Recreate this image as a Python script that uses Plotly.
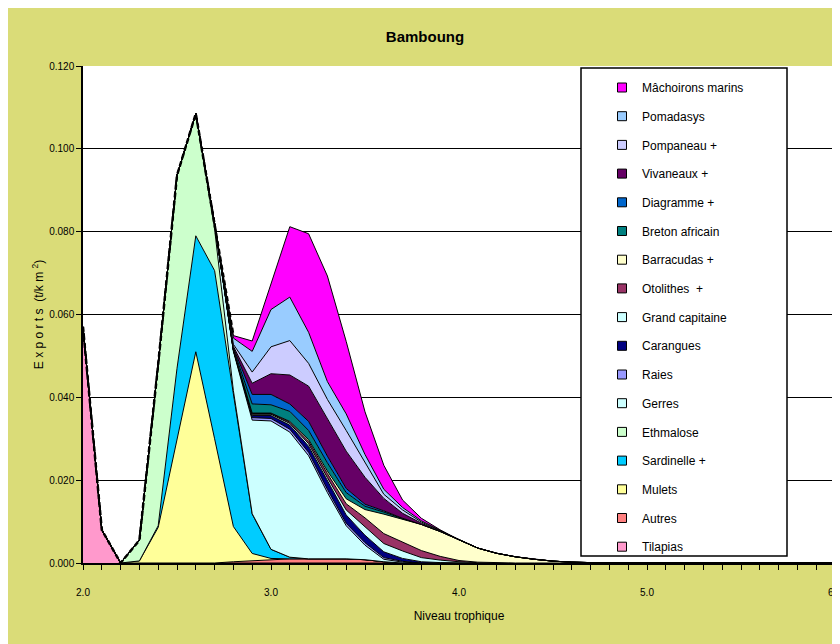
import plotly.graph_objects as go

# Trophic level categories (2.0 .. 6.0 step 0.1)
niveau = [2.0, 2.1, 2.2, 2.3, 2.4, 2.5, 2.6, 2.7, 2.8, 2.9,
          3.0, 3.1, 3.2, 3.3, 3.4, 3.5, 3.6, 3.7, 3.8, 3.9,
          4.0, 4.1, 4.2, 4.3, 4.4, 4.5, 4.6, 4.7, 4.8, 4.9,
          5.0, 5.1, 5.2, 5.3, 5.4, 5.5, 5.6, 5.7, 5.8, 5.9, 6.0]

x_tickvals = [2.0, 3.0, 4.0, 5.0, 6.0]
x_ticktext = ["2.0", "3.0", "4.0", "5.0", "6.0"]

# Exports (t/km2) per species, stacked bottom -> top
tilapias = [0.057, 0.008, 0, 0, 0, 0, 0, 0, 0, 0,
            0, 0, 0, 0, 0, 0, 0, 0, 0, 0,
            0, 0, 0, 0, 0, 0, 0, 0, 0, 0,
            0, 0, 0, 0, 0, 0, 0, 0, 0, 0, 0]
autres = [0, 0, 0, 0, 0, 0, 0, 0, 0.0003, 0.0005,
          0.0008, 0.0010, 0.0010, 0.0010, 0.0010, 0.0008, 0.0003, 0, 0, 0,
          0, 0, 0, 0, 0, 0, 0, 0, 0, 0,
          0, 0, 0, 0, 0, 0, 0, 0, 0, 0, 0]
mulets = [0, 0, 0, 0.0005, 0.0086, 0.0300, 0.0510, 0.0300, 0.0085, 0.0018,
          0.0003, 0, 0, 0, 0, 0, 0, 0, 0, 0,
          0, 0, 0, 0, 0, 0, 0, 0, 0, 0,
          0, 0, 0, 0, 0, 0, 0, 0, 0, 0, 0]
sardinelle = [0, 0, 0, 0, 0.0004, 0.0170, 0.0280, 0.0406, 0.0320, 0.0095,
              0.0022, 0.0004, 0, 0, 0, 0, 0, 0, 0, 0,
              0, 0, 0, 0, 0, 0, 0, 0, 0, 0,
              0, 0, 0, 0, 0, 0, 0, 0, 0, 0, 0]
ethmalose = [0, 0, 0, 0.0050, 0.0390, 0.0466, 0.0295, 0.0100, 0.0008, 0.0001,
             0, 0, 0, 0, 0, 0, 0, 0, 0, 0,
             0, 0, 0, 0, 0, 0, 0, 0, 0, 0,
             0, 0, 0, 0, 0, 0, 0, 0, 0, 0, 0]
gerres = [0, 0, 0, 0, 0, 0, 0, 0.0014, 0.0095, 0.0226,
          0.0310, 0.0302, 0.0249, 0.0160, 0.0080, 0.0035, 0.0006, 0.0002, 0, 0,
          0, 0, 0, 0, 0, 0, 0, 0, 0, 0,
          0, 0, 0, 0, 0, 0, 0, 0, 0, 0, 0]
raies = [0, 0, 0, 0, 0, 0, 0, 0, 0.0002, 0.0006,
         0.0006, 0.0007, 0.0008, 0.0008, 0.0006, 0.0006, 0.0004, 0.0002, 0, 0,
         0, 0, 0, 0, 0, 0, 0, 0, 0, 0,
         0, 0, 0, 0, 0, 0, 0, 0, 0, 0, 0]
carangues = [0, 0, 0, 0, 0, 0, 0, 0, 0.0001, 0.0005,
             0.0007, 0.0010, 0.0015, 0.0020, 0.0020, 0.0018, 0.0014, 0.0007, 0.0003, 0.0001,
             0, 0, 0, 0, 0, 0, 0, 0, 0, 0,
             0, 0, 0, 0, 0, 0, 0, 0, 0, 0, 0]
grand_capitaine = [0, 0, 0, 0, 0, 0, 0, 0, 0, 0.0003,
                   0.0003, 0.0004, 0.0006, 0.0008, 0.0012, 0.0020, 0.0020, 0.0018, 0.0010, 0.0006,
                   0.0003, 0.0001, 0.00005, 0, 0, 0, 0, 0, 0, 0,
                   0, 0, 0, 0, 0, 0, 0, 0, 0, 0, 0]
otolithes = [0, 0, 0, 0, 0, 0, 0, 0, 0, 0.0002,
             0.0002, 0.0003, 0.0006, 0.0010, 0.0015, 0.0022, 0.0024, 0.0022, 0.0017, 0.0009,
             0.0003, 0.0001, 0, 0, 0, 0, 0, 0, 0, 0,
             0, 0, 0, 0, 0, 0, 0, 0, 0, 0, 0]
barracudas = [0, 0, 0, 0, 0, 0, 0, 0, 0, 0.0001,
              0.0001, 0.0002, 0.0004, 0.0006, 0.0012, 0.0020, 0.0047, 0.0054, 0.0063, 0.0060,
              0.0050, 0.0034, 0.0023, 0.0015, 0.0009, 0.00045, 0.0002, 0.00005, 0, 0,
              0, 0, 0, 0, 0, 0, 0, 0, 0, 0, 0]
breton = [0, 0, 0, 0, 0, 0, 0, 0, 0.0003, 0.0022,
          0.0020, 0.0024, 0.0022, 0.0020, 0.0015, 0.0008, 0.0005, 0.0002, 0, 0,
          0, 0, 0, 0, 0, 0, 0, 0, 0, 0,
          0, 0, 0, 0, 0, 0, 0, 0, 0, 0, 0]
diagramme = [0, 0, 0, 0, 0, 0, 0, 0, 0.0003, 0.0023,
             0.0025, 0.0018, 0.0022, 0.0016, 0.0010, 0.0005, 0.0003, 0.0001, 0, 0,
             0, 0, 0, 0, 0, 0, 0, 0, 0, 0,
             0, 0, 0, 0, 0, 0, 0, 0, 0, 0, 0]
vivaneaux = [0, 0, 0, 0, 0, 0, 0, 0, 0.0003, 0.0027,
             0.0050, 0.0070, 0.0085, 0.0090, 0.0090, 0.0065, 0.0030, 0.0012, 0.0003, 0.0001,
             0, 0, 0, 0, 0, 0, 0, 0, 0, 0,
             0, 0, 0, 0, 0, 0, 0, 0, 0, 0, 0]
pompaneau = [0, 0, 0, 0, 0, 0, 0, 0, 0.0005, 0.0027,
             0.0065, 0.0083, 0.0055, 0.0047, 0.0050, 0.0035, 0.0010, 0.0008, 0.0003, 0.0001,
             0, 0, 0, 0, 0, 0, 0, 0, 0, 0,
             0, 0, 0, 0, 0, 0, 0, 0, 0, 0, 0]
pomadasys = [0, 0, 0, 0, 0, 0, 0, 0, 0.0015, 0.0050,
             0.0090, 0.0105, 0.0075, 0.0043, 0.0040, 0.0020, 0.0012, 0.0006, 0.0003, 0.0001,
             0, 0, 0, 0, 0, 0, 0, 0, 0, 0,
             0, 0, 0, 0, 0, 0, 0, 0, 0, 0, 0]
machoirons = [0, 0, 0, 0, 0, 0, 0, 0, 0.0006, 0.0025,
              0.0060, 0.0170, 0.0238, 0.0255, 0.0175, 0.0103, 0.0058, 0.0018, 0.0006, 0.0001,
              0, 0, 0, 0, 0, 0, 0, 0, 0, 0,
              0, 0, 0, 0, 0, 0, 0, 0, 0, 0, 0]

series_names = ["Tilapias", "Autres", "Mulets", "Sardinelle +", "Ethmalose", "Gerres",
                "Raies", "Carangues", "Grand capitaine", "Otolithes  +", "Barracudas +",
                "Breton africain", "Diagramme +", "Vivaneaux +", "Pompaneau +",
                "Pomadasys", "Mâchoirons marins"]
series_values = [tilapias, autres, mulets, sardinelle, ethmalose, gerres,
                 raies, carangues, grand_capitaine, otolithes, barracudas,
                 breton, diagramme, vivaneaux, pompaneau, pomadasys, machoirons]
series_colors = ["#FF99CC", "#FF8080", "#FFFF99", "#00CCFF", "#CCFFCC", "#CCFFFF",
                 "#9999FF", "#000080", "#CCFFFF", "#993366", "#FFFFCC",
                 "#008080", "#0066CC", "#660066", "#CCCCFF", "#99CCFF", "#FF00FF"]

FONT = "Liberation Sans, Arial, sans-serif"

fig = go.Figure()

for name, vals, col in zip(series_names, series_values, series_colors):
    fig.add_trace(go.Scatter(
        x=niveau, y=vals, name=name, mode="lines",
        stackgroup="one", fillcolor=col,
        line=dict(color="black", width=1),
        showlegend=False, hoverinfo="x+y+name"))

# dashed outline of the low-trophic-level envelope (sum of the stack)
n_env = 9
envelope = [sum(v[i] for v in series_values) for i in range(n_env)]
fig.add_trace(go.Scatter(
    x=niveau[:n_env], y=envelope, mode="lines", showlegend=False,
    line=dict(color="black", width=2.5, dash="5px,3px"), hoverinfo="skip"))

# legend entries (top of stack first), small square swatches
for name, col in zip(series_names[::-1], series_colors[::-1]):
    fig.add_trace(go.Scatter(
        x=[None], y=[None], name=name, mode="markers",
        marker=dict(symbol="square", size=9, color=col,
                    line=dict(color="black", width=1)),
        legendgroup=name, showlegend=True))

# positions in figure pixels (page adds an 8px body margin)
plot_l, plot_r, plot_t, plot_b = 75, 827, 58, 555
W, H = 840, 644
pw, ph = plot_r - plot_l, plot_b - plot_t

def px_x(p):
    return (p - plot_l) / pw

def px_y(p):
    return (plot_b - p) / ph

fig.update_layout(
    width=W, height=H,
    paper_bgcolor="#DADC78", plot_bgcolor="white",
    margin=dict(l=plot_l, r=W - plot_r, t=plot_t, b=H - plot_b, autoexpand=False),
    font=dict(family=FONT, size=11, color="black"),
    title=dict(text="<b>Bamboung</b>", x=417 / W, xref="container", xanchor="center",
               y=1 - 29 / H, yref="container", yanchor="middle",
               font=dict(family=FONT, size=15, color="black")),
    xaxis=dict(range=[2.0, 6.0], tickvals=x_tickvals, ticktext=x_ticktext,
               ticks="outside", ticklen=5, tickcolor="black", tickwidth=1,
               minor=dict(dtick=0.1, tick0=2.0, ticks="outside", ticklen=5,
                          tickcolor="black", tickwidth=1, showgrid=False),
               showline=True, linecolor="black", linewidth=1.5,
               showgrid=False, zeroline=False, ticklabelstandoff=14,
               tickfont=dict(family=FONT, size=10),
               title=dict(text="Niveau trophique", standoff=15,
                          font=dict(family=FONT, size=12))),
    yaxis=dict(range=[0, 0.12], dtick=0.02, tick0=0, tickformat=".3f",
               ticks="outside", ticklen=5, tickcolor="black",
               showline=True, linecolor="black", linewidth=1.5,
               showgrid=True, gridcolor="black", gridwidth=1, zeroline=False,
               tickfont=dict(family=FONT, size=10),
               title=dict(text="E x p o r t s  (t/k m <sup>2</sup>)", standoff=3,
                          font=dict(family=FONT, size=12))),
    legend=dict(x=px_x(594), y=px_y(65), xanchor="left", yanchor="top",
                bgcolor="rgba(0,0,0,0)", borderwidth=0,
                tracegroupgap=9.7, traceorder="grouped",
                font=dict(family=FONT, size=12, color="black")),
    shapes=[dict(type="rect", xref="paper", yref="paper",
                 x0=px_x(573), x1=px_x(779), y0=px_y(548), y1=px_y(60),
                 fillcolor="white", line=dict(color="black", width=1.5),
                 layer="above")],
)

fig.write_html("out.html")
